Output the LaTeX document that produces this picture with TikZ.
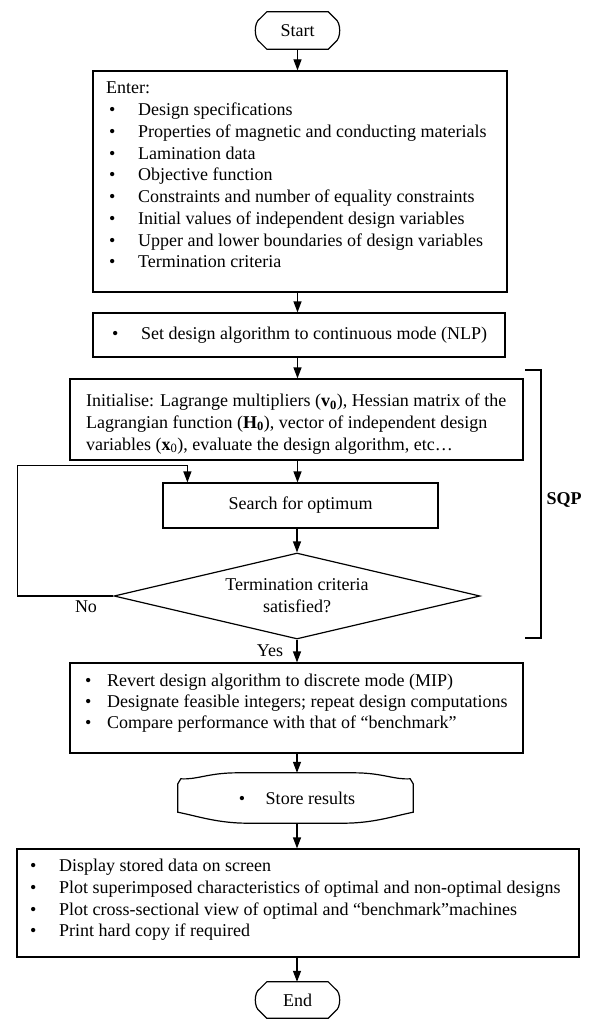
\documentclass[tikz,border=0pt]{standalone}
\usepackage{fontspec}
\setmainfont{Liberation Serif}
\usetikzlibrary{arrows.meta,calc,shapes.geometric}
\newcommand\blt[1][29pt]{\hspace*{3pt}\makebox[#1][l]{\textbullet}}
\newcommand\termpath[1]{%
\draw[ln] ($(#1.north west)+(9,0)$) -- ($(#1.north east)+(-9,0)$) -- ($(#1.north east)+(-2,7)$)
 .. controls ($(#1.east)+(4,-8)$) and ($(#1.east)+(4,8)$) .. ($(#1.south east)+(-2,-7)$)
 -- ($(#1.south east)+(-9,0)$) -- ($(#1.south west)+(9,0)$) -- ($(#1.south west)+(2,-7)$)
 .. controls ($(#1.west)+(-4,8)$) and ($(#1.west)+(-4,-8)$) .. ($(#1.north west)+(2,7)$) -- cycle;}
\begin{document}
\begin{tikzpicture}[x=1pt,y=-1pt,
  txt/.style={font=\fontsize{18}{21.75}\selectfont},
  ln/.style={line width=1.2pt},
  box/.style={draw, line width=1.2pt, inner sep=0pt},
  lbl/.style={txt, inner sep=0pt, align=left, anchor=west},
  arr/.style={-{Triangle[length=11pt,width=8pt]}, line width=1.2pt}]
\useasboundingbox (0,0) rectangle (590,1024);

% Start
\node[txt, minimum width=79pt, minimum height=37pt, inner sep=0pt] (start) at (297.5,30.5) {Start};
\termpath{start}

% Enter
\node[box, minimum width=414pt, minimum height=221pt] (enter) at (300,181.5) {};
\node[lbl] (entertxt) at (106,175) {Enter:\\
\blt Design specifications\\
\blt Properties of magnetic and conducting materials\\
\blt Lamination data\\
\blt Objective function\\
\blt Constraints and number of equality constraints\\
\blt Initial values of independent design variables\\
\blt Upper and lower boundaries of design variables\\
\blt Termination criteria};

% NLP
\node[box, minimum width=412pt, minimum height=44pt] (nlp) at (299,335) {};
\node[lbl] (nlptxt) at (109,335) {\blt Set design algorithm to continuous mode (NLP)};

% Initialise
\node[box, minimum width=453pt, minimum height=81pt] (init) at (296.5,419.5) {};
\node[lbl] (inittxt) at (86,424) {Initialise: Lagrange multipliers (\textbf{v}\textsubscript{\textbf{0}}), Hessian matrix of the\\
Lagrangian function (\textbf{H}\textsubscript{\textbf{0}}), vector of independent design\\
variables (\textbf{x}\textsubscript{0}), evaluate the design algorithm, etc\ldots};

% Search
\node[box, txt, minimum width=275pt, minimum height=45pt] (search) at (300.5,505.5) {Search for optimum};

% Decision
\node[draw, ln, diamond, shape aspect=5.4, minimum width=366pt, minimum height=86pt, inner sep=0pt, txt, align=center] (dec) at (297,596) {Termination criteria\\satisfied?};

\node[txt] (no) at (86,607) {No};
\node[txt] (yes) at (270,651) {Yes};

% SQP bracket
\draw[ln] (525,370) -- (541,370) -- (541,638) -- (525,638);
\node[txt, font=\fontsize{18}{20}\selectfont\bfseries] (sqp) at (564,500) {SQP};

% MIP
\node[box, minimum width=453pt, minimum height=90pt] (mip) at (296.5,708) {};
\node[lbl, font=\fontsize{18}{21}\selectfont] (miptxt) at (82,703) {\blt[22pt]Revert design algorithm to discrete mode (MIP)\\
\blt[22pt]Designate feasible integers; repeat design computations\\
\blt[22pt]Compare performance with that of ``benchmark''};

% Store
\node[txt, minimum width=235pt, minimum height=50pt, inner sep=0pt] (store) at (295.5,798) {\blt[27pt]Store results};
\draw[ln] ($(store.north west)+(0,11)$) -- ($(store.north west)+(3,6)$)
  .. controls ($(store.north west)+(20,7)$) and ($(store.north west)+(30,0)$) .. ($(store.north west)+(60,0)$)
  -- ($(store.north east)+(-60,0)$)
  .. controls ($(store.north east)+(-30,0)$) and ($(store.north east)+(-20,7)$) .. ($(store.north east)+(-3,6)$)
  -- ($(store.north east)+(0,11)$) -- ($(store.south east)+(0,-11)$)
  .. controls ($(store.south east)+(-20,-7)$) and ($(store.south east)+(-40,0)$) .. ($(store.south east)+(-70,0)$)
  -- ($(store.south west)+(70,0)$)
  .. controls ($(store.south west)+(40,0)$) and ($(store.south west)+(20,-7)$) .. ($(store.south west)+(0,-11)$)
  -- cycle;

% Display
\node[box, minimum width=562pt, minimum height=108pt] (disp) at (298,903) {};
\node[lbl] (disptxt) at (27,900) {\blt Display stored data on screen\\
\blt Plot superimposed characteristics of optimal and non-optimal designs\\
\blt Plot cross-sectional view of optimal and ``benchmark''machines\\
\blt Print hard copy if required};

% End
\node[txt, minimum width=79pt, minimum height=36pt, inner sep=0pt] (end) at (297.5,1000) {End};
\termpath{end}

% connectors
\draw[arr] (start.south) -- (enter.north -| start.south);
\draw[arr] (enter.south -| start.south) -- (nlp.north -| start.south);
\draw[arr] (nlp.south -| start.south) -- (init.north -| start.south);
\draw[arr] (init.south -| start.south) -- (search.north -| start.south);
\draw[arr] (search.south -| dec.north) -- (dec.north);
\draw[arr] (dec.west) -- ++(-96,0) |- ($(search.north west)+(25,-17)$) -- ($(search.north west)+(25,0)$);
\draw[arr] (dec.south) -- (mip.north -| dec.south);
\draw[arr] (mip.south -| dec.south) -- (store.north -| dec.south);
\draw[arr] (store.south -| dec.south) -- (disp.north -| dec.south);
\draw[arr] (disp.south -| dec.south) -- (end.north -| dec.south);
\end{tikzpicture}
\end{document}
